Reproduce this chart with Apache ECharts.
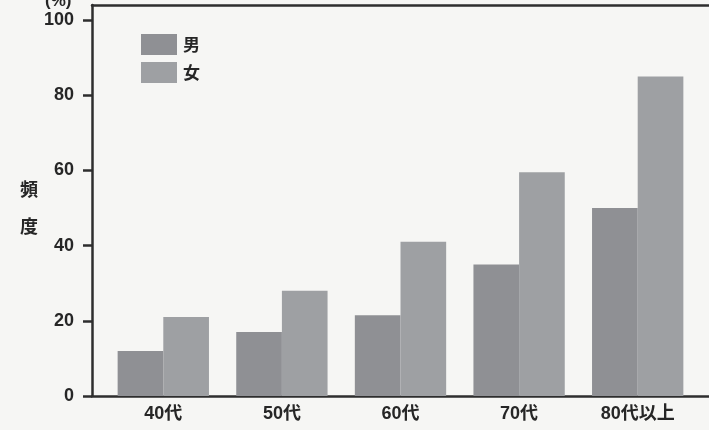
<!DOCTYPE html>
<html>
<head>
<meta charset="utf-8">
<script src="https://cdn.jsdelivr.net/npm/echarts@6/dist/echarts.min.js"></script>
<style>
html, body { margin: 0; padding: 0; background: #f6f6f4; }
#chart { width: 709px; height: 430px; }
</style>
</head>
<body>
<div id="chart"></div>
<script>
// Age groups and frequencies (%) by sex
const categories = ['40代', '50代', '60代', '70代', '80代以上'];
const male = [12, 17, 21.5, 35, 50];
const female = [21, 28, 41, 59.5, 85];
const yTicks = { min: 0, max: 100, step: 20 };

const FONT = '"Liberation Sans", "Noto Sans CJK JP", sans-serif';
const CJK = '"Noto Sans CJK JP", sans-serif';
const TEXT = '#262626';
const AXIS = '#2e2e2e';

const chart = echarts.init(document.getElementById('chart'));
chart.setOption({
  backgroundColor: '#f6f6f4',
  animation: false,
  textStyle: { fontFamily: FONT },
  title: {
    text: '(%)',
    left: 40, top: -12,
    textStyle: { fontFamily: FONT, fontSize: 17, fontWeight: 'bold', color: TEXT }
  },
  legend: {
    orient: 'vertical',
    left: 136, top: 29,
    itemWidth: 36, itemHeight: 21, itemGap: 7,
    icon: 'rect',
    textStyle: { fontFamily: CJK, fontSize: 17, fontWeight: 'bold', color: TEXT, padding: [0, 0, 0, 1] },
    data: ['男', '女']
  },
  grid: [
    { left: 104, right: 12, top: 20, bottom: 34 },
    { left: 92, right: -4, top: 5, bottom: 34 }
  ],
  xAxis: [
    {
      type: 'category', gridIndex: 0, data: categories,
      axisLine: { show: false }, axisTick: { show: false },
      axisLabel: { margin: 9, fontFamily: FONT, fontSize: 18, fontWeight: 'bold', color: TEXT }
    },
    {
      type: 'value', gridIndex: 1, position: 'bottom', min: 0, max: 1,
      axisLine: { show: true, lineStyle: { color: AXIS, width: 2.5 } },
      axisTick: { show: false }, axisLabel: { show: false }, splitLine: { show: false }
    },
    {
      type: 'value', gridIndex: 1, position: 'top', min: 0, max: 1,
      axisLine: { show: true, lineStyle: { color: AXIS, width: 2.5 } },
      axisTick: { show: false }, axisLabel: { show: false }, splitLine: { show: false }
    }
  ],
  yAxis: [
    {
      type: 'value', gridIndex: 0,
      min: yTicks.min, max: yTicks.max, interval: yTicks.step,
      offset: 12,
      name: '頻\n度', nameLocation: 'middle', nameRotate: 0, nameGap: 49,
      nameTextStyle: { fontFamily: CJK, fontSize: 18, fontWeight: 'bold', color: TEXT, lineHeight: 37, align: 'right' },
      axisLine: { show: false },
      axisTick: { show: true, length: 9, lineStyle: { color: AXIS, width: 2.5 } },
      axisLabel: { margin: 18, fontFamily: FONT, fontSize: 18, fontWeight: 'bold', color: TEXT },
      splitLine: { show: false }
    },
    {
      type: 'value', gridIndex: 1, min: 0, max: 1, position: 'left',
      axisLine: { show: true, lineStyle: { color: AXIS, width: 2.5 } },
      axisTick: { show: false }, axisLabel: { show: false }, splitLine: { show: false }
    }
  ],
  series: [
    {
      name: '男', type: 'bar', xAxisIndex: 0, yAxisIndex: 0,
      data: male, barGap: '0%', barCategoryGap: '23%',
      itemStyle: { color: '#8f9094' }
    },
    {
      name: '女', type: 'bar', xAxisIndex: 0, yAxisIndex: 0,
      data: female, barGap: '0%', barCategoryGap: '23%',
      itemStyle: { color: '#9ea0a3' }
    }
  ]
});
</script>
</body>
</html>
